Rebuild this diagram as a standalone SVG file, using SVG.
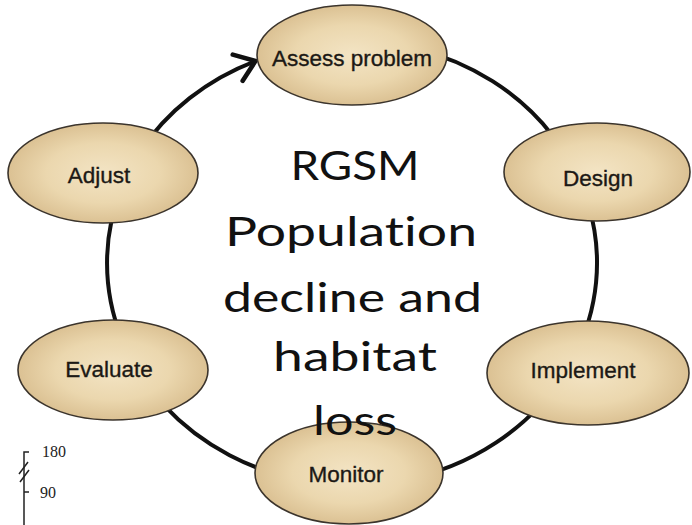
<svg xmlns="http://www.w3.org/2000/svg" width="692" height="525" viewBox="0 0 692 525">
  <defs>
    <radialGradient id="tan" cx="50%" cy="50%" r="50%">
      <stop offset="0%" stop-color="#f3e4c4"/>
      <stop offset="60%" stop-color="#ebd7ae"/>
      <stop offset="100%" stop-color="#dbc193"/>
    </radialGradient>
    <marker id="chevron" markerUnits="userSpaceOnUse" markerWidth="50" markerHeight="50" viewBox="-25 -25 50 50" refX="0" refY="0" orient="auto" overflow="visible">
      <path d="M -19,-14 L 0,0 L -19,14" fill="none" stroke="#111" stroke-width="4.6" stroke-linecap="round" stroke-linejoin="miter"/>
    </marker>
    <style>
      .node ellipse { fill: url(#tan); stroke: #3b342c; stroke-width: 1.6; }
      .node text { font-family: "Liberation Sans", Arial, sans-serif; font-size: 22.5px; fill: #1c1915; stroke: #1c1915; stroke-width: 0.35; text-anchor: middle; }
      .link { fill: none; stroke: #111; stroke-width: 4; }
      .title { font-family: Lato, "Open Sans", sans-serif; font-size: 41px; fill: #111; text-anchor: middle; font-variant-ligatures: none; font-feature-settings: "liga" 0; }
      .axis { stroke: #222; stroke-width: 1.5; fill: none; }
      .axis-label { font-family: "Liberation Serif", "Times New Roman", serif; font-size: 16px; fill: #222; }
    </style>
  </defs>

  <rect width="692" height="525" fill="#ffffff"/>

  <!-- cycle connectors: arcs of one ellipse (center 352,263; rx 245, ry 222) -->
  <g id="connectors">
    <path class="link" d="M 415.4,48.6 A 245 222 0 0 1 552.7,135.7"/>
    <path class="link" d="M 588.7,205.5 A 245 222 0 0 1 574.0,356.8"/>
    <path class="link" d="M 564.2,374.0 A 245 222 0 0 1 402.9,480.2"/>
    <path class="link" d="M 309.5,481.6 A 245 222 0 0 1 164.3,405.7"/>
    <path class="link" d="M 121.8,338.9 A 245 222 0 0 1 121.8,187.1"/>
    <path class="link" d="M 139.8,152.0 A 245 222 0 0 1 255.5,61" marker-end="url(#chevron)"/>
  </g>

  <g id="assess" class="node">
    <ellipse cx="352" cy="55" rx="95" ry="50"/>
    <text x="352" y="66">Assess problem</text>
  </g>
  <g id="design" class="node">
    <ellipse cx="597" cy="172" rx="93" ry="49"/>
    <text x="598" y="186">Design</text>
  </g>
  <g id="implement" class="node">
    <ellipse cx="588" cy="373" rx="101" ry="52"/>
    <text x="583" y="378">Implement</text>
  </g>
  <g id="monitor" class="node">
    <ellipse cx="349" cy="473" rx="94" ry="51"/>
    <text x="346" y="482">Monitor</text>
  </g>
  <g id="evaluate" class="node">
    <ellipse cx="113" cy="370" rx="95" ry="50"/>
    <text x="109" y="377">Evaluate</text>
  </g>
  <g id="adjust" class="node">
    <ellipse cx="103" cy="173" rx="95" ry="50"/>
    <text x="99" y="183">Adjust</text>
  </g>

  <!-- central caption -->
  <g id="caption">
    <text class="title" x="355" y="180" textLength="129" lengthAdjust="spacingAndGlyphs">RGSM</text>
    <text class="title" x="351" y="246" textLength="252" lengthAdjust="spacingAndGlyphs">Population</text>
    <text class="title" x="352.5" y="312" textLength="259" lengthAdjust="spacingAndGlyphs">decline and</text>
    <text class="title" x="355" y="371" textLength="164" lengthAdjust="spacingAndGlyphs">habitat</text>
    <text class="title" x="355" y="435" textLength="84" lengthAdjust="spacingAndGlyphs">loss</text>
  </g>

  <!-- small axis fragment, lower left -->
  <g id="axis">
    <path class="axis" d="M 29,452 L 24,452 L 24,525"/>
    <path class="axis" d="M 24,492 L 29,492"/>
    <path class="axis" d="M 19,474 L 28,462 M 20,482 L 29,470" stroke="#5a4a3a"/>
    <text class="axis-label" x="42" y="457">180</text>
    <text class="axis-label" x="40" y="498">90</text>
  </g>
</svg>
